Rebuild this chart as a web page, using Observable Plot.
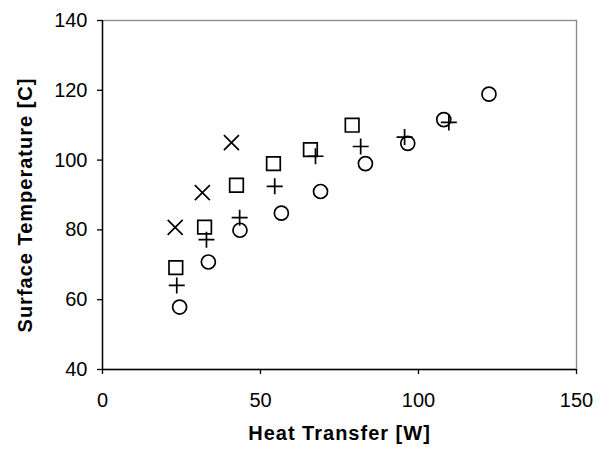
<!DOCTYPE html>
<html><head><meta charset="utf-8">
<script src="https://cdn.jsdelivr.net/npm/d3@7"></script>
<script src="https://cdn.jsdelivr.net/npm/@observablehq/plot@0.6"></script>
<style>body{margin:0;background:#fff}</style>
</head><body><div id="chart"></div>
<script>
const circleX = [24.4, 33.5, 43.5, 56.6, 69.0, 83.2, 96.6, 108.0, 122.3];
const circleY = [57.9, 70.8, 79.9, 84.8, 91.0, 99.0, 104.8, 111.6, 118.9];
const plusX = [23.5, 32.9, 43.4, 54.5, 67.4, 81.7, 95.6, 109.6];
const plusY = [64.1, 77.2, 83.5, 92.5, 101.1, 103.9, 106.6, 110.8];
const squareX = [23.2, 32.3, 42.4, 54.1, 65.8, 79.0];
const squareY = [69.2, 80.8, 92.8, 99.0, 103.0, 110.0];
const timesX = [23.0, 31.6, 40.8];
const timesY = [80.7, 90.7, 105.0];
const xTicks = [0, 50, 100, 150];
const yTicks = [40, 60, 80, 100, 120, 140];
const xLabel = "Heat Transfer [W]";
const yLabel = "Surface Temperature [C]";

const pts = (xs, ys) => xs.map((x, i) => ({x, y: ys[i]}));
const rad = s => Math.sqrt(s / Math.PI);
const sym = {
  circle: {draw(c, s) { const r = rad(s); c.moveTo(r, 0); c.arc(0, 0, r, 0, 2 * Math.PI); }},
  square: {draw(c, s) { const r = rad(s); c.rect(-r, -r, 2 * r, 2 * r); }},
  plus: {draw(c, s) { const r = rad(s); c.moveTo(-r, 0); c.lineTo(r, 0); c.moveTo(0, -r); c.lineTo(0, r); }},
  times: {draw(c, s) { const r = rad(s); c.moveTo(-r, -r); c.lineTo(r, r); c.moveTo(-r, r); c.lineTo(r, -r); }}
};
const font = '"Liberation Sans", Arial, sans-serif';
const dotStyle = {x: "x", y: "y", fill: "none", stroke: "black", strokeWidth: 1.7};

const chart = Plot.plot({
  width: 605, height: 452,
  marginLeft: 102, marginRight: 29, marginTop: 20, marginBottom: 83,
  style: {fontFamily: font, background: "white", color: "black"},
  x: {domain: [0, 150]},
  y: {domain: [40, 140]},
  marks: [
    Plot.frame({stroke: "#888", strokeWidth: 1.3}),
    Plot.ruleX([0], {stroke: "black", strokeWidth: 1.4}),
    Plot.ruleY([40], {stroke: "black", strokeWidth: 1.4}),
    Plot.axisX({ticks: xTicks, tickSize: 5, tickPadding: 18, fontSize: 20, stroke: "black", strokeWidth: 1.3, label: null}),
    Plot.axisY({ticks: yTicks, tickSize: 5, tickPadding: 10, fontSize: 20, stroke: "black", strokeWidth: 1.3, label: null}),
    Plot.dot(pts(circleX, circleY), {...dotStyle, symbol: sym.circle, r: 7}),
    Plot.dot(pts(plusX, plusY), {...dotStyle, symbol: sym.plus, r: 8}),
    Plot.dot(pts(squareX, squareY), {...dotStyle, symbol: sym.square, r: 6.8}),
    Plot.dot(pts(timesX, timesY), {...dotStyle, symbol: sym.times, r: 7.5}),
    Plot.text([xLabel], {frameAnchor: "bottom", textAnchor: "middle", dy: 70, fontSize: 20, fontWeight: "bold", fill: "black"}),
    Plot.text([yLabel], {frameAnchor: "left", textAnchor: "middle", dx: -77, dy: 10, rotate: -90, fontSize: 20, fontWeight: "bold", fill: "black"})
  ]
});
chart.querySelectorAll("text").forEach(t => { if (t.textContent === xLabel || t.textContent === yLabel) t.setAttribute("letter-spacing", "1"); });
document.getElementById("chart").append(chart);
</script>
</body></html>
